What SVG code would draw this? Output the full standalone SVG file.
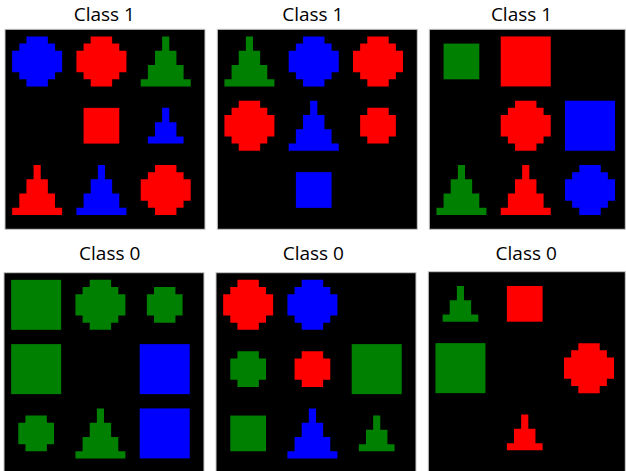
<svg xmlns="http://www.w3.org/2000/svg" xmlns:xlink="http://www.w3.org/1999/xlink" width="626" height="471" viewBox="0 0 626 471">
<style>
.title{font-family:"Open Sans","Liberation Sans",sans-serif;font-size:19px;fill:#000;text-anchor:middle}
.panel{fill:#000;stroke:#c8c8c8;stroke-width:1}
.r{fill:#ff0000}.g{fill:#008000}.b{fill:#0000ff}
</style>
<defs>
<path id="bc" d="M2,0H5V1H6V2H7V5H6V6H5V7H2V6H1V5H0V2H1V1H2Z"/>
<path id="sc" d="M1,0H4V1H5V4H4V5H1V4H0V1H1Z"/>
<path id="bt" d="M3,0H4V2H5V4H6V6H7V7H0V6H1V4H2V2H3Z"/>
<path id="st" d="M2,0H3V2H4V4H5V5H0V4H1V2H2Z"/>
<rect id="bs" width="7" height="7"/>
<rect id="ss" width="5" height="5"/>
</defs>
<rect width="626" height="471" fill="#fff"/>
<g id="titles">
<text class="title" x="104.3" y="20.5">Class 1</text>
<text class="title" x="312.8" y="20.5">Class 1</text>
<text class="title" x="521.5" y="20.5">Class 1</text>
<text class="title" x="109.7" y="260">Class 0</text>
<text class="title" x="313.3" y="260">Class 0</text>
<text class="title" x="526.2" y="260">Class 0</text>
</g>
<g id="panel1" transform="translate(5,29.3)">
<rect class="panel" width="200" height="200"/>
<g transform="scale(7.1429)">
<use href="#bc" class="b" x="1" y="1"/>
<use href="#bc" class="r" x="10" y="1"/>
<use href="#bt" class="g" x="19" y="1"/>
<use href="#ss" class="r" x="11" y="11"/>
<use href="#st" class="b" x="20" y="11"/>
<use href="#bt" class="r" x="1" y="19"/>
<use href="#bt" class="b" x="10" y="19"/>
<use href="#bc" class="r" x="19" y="19"/>
</g>
</g>
<g id="panel2" transform="translate(217.3,29.3)">
<rect class="panel" width="200" height="200"/>
<g transform="scale(7.1429)">
<use href="#bt" class="g" x="1" y="1"/>
<use href="#bc" class="b" x="10" y="1"/>
<use href="#bc" class="r" x="19" y="1"/>
<use href="#bc" class="r" x="1" y="10"/>
<use href="#bt" class="b" x="10" y="10"/>
<use href="#sc" class="r" x="20" y="11"/>
<use href="#ss" class="b" x="11" y="20"/>
</g>
</g>
<g id="panel3" transform="translate(429.3,29.3)">
<rect class="panel" width="196" height="200"/>
<g transform="scale(7.1429)">
<use href="#ss" class="g" x="2" y="2"/>
<use href="#bs" class="r" x="10" y="1"/>
<use href="#bc" class="r" x="10" y="10"/>
<use href="#bs" class="b" x="19" y="10"/>
<use href="#bt" class="g" x="1" y="19"/>
<use href="#bt" class="r" x="10" y="19"/>
<use href="#bc" class="b" x="19" y="19"/>
</g>
</g>
<g id="panel4" transform="translate(4,272.7)">
<rect class="panel" width="200" height="200"/>
<g transform="scale(7.1429)">
<use href="#bs" class="g" x="1" y="1"/>
<use href="#bc" class="g" x="10" y="1"/>
<use href="#sc" class="g" x="20" y="2"/>
<use href="#bs" class="g" x="1" y="10"/>
<use href="#bs" class="b" x="19" y="10"/>
<use href="#sc" class="g" x="2" y="20"/>
<use href="#bt" class="g" x="10" y="19"/>
<use href="#bs" class="b" x="19" y="19"/>
</g>
</g>
<g id="panel5" transform="translate(216,272.7)">
<rect class="panel" width="200" height="200"/>
<g transform="scale(7.1429)">
<use href="#bc" class="r" x="1" y="1"/>
<use href="#bc" class="b" x="10" y="1"/>
<use href="#sc" class="g" x="2" y="11"/>
<use href="#sc" class="r" x="11" y="11"/>
<use href="#bs" class="g" x="19" y="10"/>
<use href="#ss" class="g" x="2" y="20"/>
<use href="#bt" class="b" x="10" y="19"/>
<use href="#st" class="g" x="20" y="20"/>
</g>
</g>
<g id="panel6" transform="translate(428.3,271.7)">
<rect class="panel" width="197" height="201"/>
<g transform="scale(7.1429)">
<use href="#st" class="g" x="2" y="2"/>
<use href="#ss" class="r" x="11" y="2"/>
<use href="#bs" class="g" x="1" y="10"/>
<use href="#bc" class="r" x="19" y="10"/>
<use href="#st" class="r" x="11" y="20"/>
</g>
</g>
</svg>
